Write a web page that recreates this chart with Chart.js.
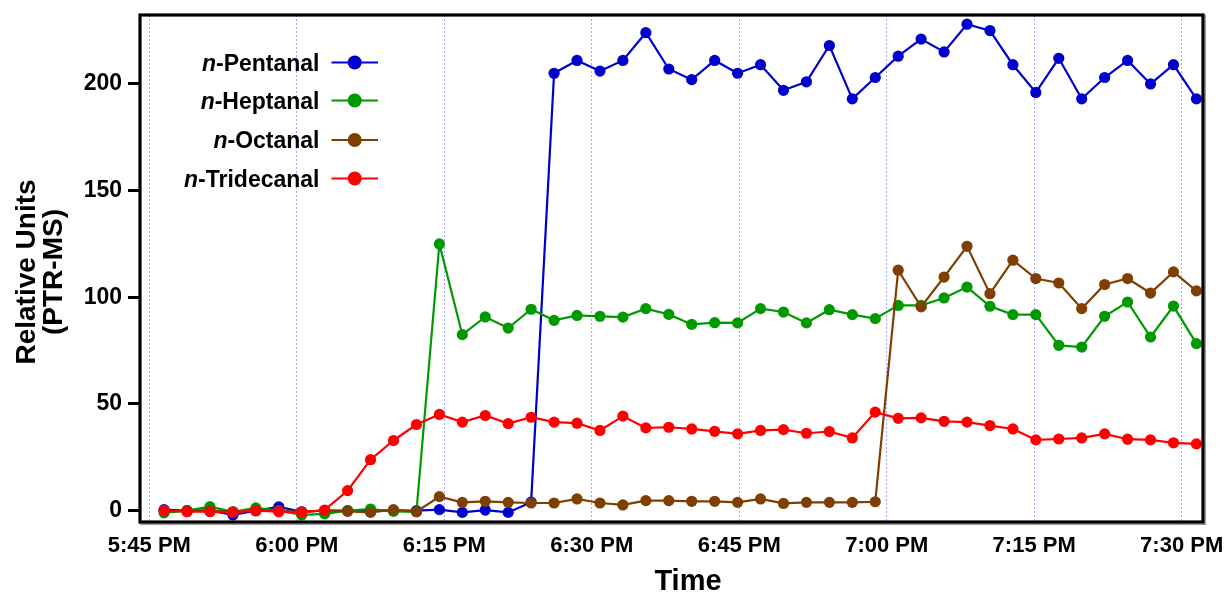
<!DOCTYPE html>
<html><head><meta charset="utf-8">
<script src="https://cdn.jsdelivr.net/npm/chart.js@4.4.1/dist/chart.umd.min.js"></script>
<style>html,body{margin:0;padding:0;background:#fff}canvas{display:block}</style>
</head><body>
<canvas id="c" width="1226" height="594"></canvas>
<script>
// ---- data ----
const sampleTimes = ['17:46:30','17:48:50','17:51:10','17:53:30','17:55:50','17:58:10','18:00:30','18:02:50','18:05:10','18:07:30',
 '18:09:50','18:12:10','18:14:30','18:16:50','18:19:10','18:21:30','18:23:50','18:26:10','18:28:30','18:30:50',
 '18:33:10','18:35:30','18:37:50','18:40:10','18:42:30','18:44:50','18:47:10','18:49:30','18:51:50','18:54:10',
 '18:56:30','18:58:50','19:01:10','19:03:30','19:05:50','19:08:10','19:10:30','19:12:50','19:15:10','19:17:30',
 '19:19:50','19:22:10','19:24:30','19:26:50','19:29:10','19:31:30'];
const seriesNames = ['Pentanal','Heptanal','Octanal','Tridecanal'];
const pentanal = [0.5,0,0,-2,0,1.8,-0.5,0,0,0,0,0,0.5,-0.8,0.3,-0.8,4,
 205,211,206,211,224,207,202,211,205,209,197,201,218,193,203,213,221,215,228,225,209,196,212,193,203,211,200,209,193];
const heptanal = [-1,0,1.9,-0.5,1.3,0,-2,-1.5,0,0.8,-0.3,-0.5,
 125,82.5,90.8,85.6,94.4,89.2,91.5,91.1,90.7,94.7,92,87.3,88.1,88,94.7,93.1,88,94.2,91.9,90,
 96.2,96.2,99.7,104.8,95.8,91.9,91.9,77.5,76.7,91.1,97.8,81.4,95.9,78.3];
const octanal = [0,0,0,-0.5,0,0,-0.5,0,-0.3,-0.8,0.5,-0.5,
 6.6,3.9,4.4,3.9,3.6,3.6,5.5,3.6,2.7,4.7,4.7,4.4,4.4,3.9,5.5,3.4,3.9,3.9,3.9,4.2,
 112.7,95.5,109.5,123.9,101.7,117.4,108.8,106.7,94.7,106,108.8,102,111.9,103];
const tridecanal = [0,-0.5,-0.5,-0.8,0,-0.5,-0.8,0.3,9.4,23.9,32.9,40.4,45.1,41.5,44.6,40.8,43.8,41.5,41,37.6,
 44.3,38.8,39.1,38.3,37.2,36,37.6,38,36.3,37.1,34.1,46.2,43.3,43.5,41.9,41.5,39.9,38.3,33.2,33.6,
 34.1,36,33.5,33.2,31.8,31.3];
const xTickTimes = ['17:45:00','18:00:00','18:15:00','18:30:00','18:45:00','19:00:00','19:15:00','19:30:00'];
const xTickLabels = ['5:45 PM','6:00 PM','6:15 PM','6:30 PM','6:45 PM','7:00 PM','7:15 PM','7:30 PM'];
const yTicks = [0,50,100,150,200];
const colors = ['#0000cc','#009900','#7f3f00','#ff0000'];

// ---- helpers ----
const FONT = "'Liberation Sans', Arial, Helvetica, sans-serif";
function toMin(s){const p=s.split(':').map(Number);return p[0]*60+p[1]+p[2]/60-(17*60+45);}
const seriesValues=[pentanal,heptanal,octanal,tridecanal];
const drawOrder=[3,2,1,0];
const datasets = seriesValues.map((vals,k)=>({
  label:'n-'+seriesNames[k],
  data: sampleTimes.map((t,i)=>({x:toMin(t),y:vals[i]})),
  borderColor:colors[k], backgroundColor:colors[k],
  pointBackgroundColor:colors[k], pointBorderColor:colors[k],
  borderWidth:2.2, pointRadius:5.6, pointBorderWidth:0, tension:0,
  order:drawOrder[k]
}));

const framePlugin = {
  id:'frame',
  afterDraw(chart){
    const {ctx, chartArea:a} = chart;
    ctx.save();
    // shadow
    ctx.strokeStyle='#9a9a9a'; ctx.lineWidth=1.5;
    ctx.beginPath(); ctx.moveTo(a.right+2.2,a.top); ctx.lineTo(a.right+2.2,a.bottom+2.2); ctx.lineTo(a.left,a.bottom+2.2); ctx.stroke();
    ctx.strokeStyle='#000'; ctx.lineWidth=3.2;
    ctx.strokeRect(a.left,a.top,a.right-a.left,a.bottom-a.top);
    // legend
    const rows=[70.5,108.5,148,186.5];
    const textRight=319.5, lx1=331.5, lx2=378, mx=354.7;
    seriesNames.forEach((nm,k)=>{
      const y=rows[k];
      ctx.font="bold 23px "+FONT; ctx.fillStyle='#000'; ctx.textBaseline='alphabetic'; ctx.textAlign='left';
      const rest='-'+nm; const w=ctx.measureText(rest).width;
      ctx.fillText(rest,textRight-w,y);
      ctx.font="italic bold 23px "+FONT; ctx.textAlign='right';
      ctx.fillText('n',textRight-w,y);
      const cy=y-8;
      ctx.strokeStyle=colors[k]; ctx.lineWidth=2.2;
      ctx.beginPath(); ctx.moveTo(lx1,cy); ctx.lineTo(lx2,cy); ctx.stroke();
      ctx.fillStyle=colors[k]; ctx.beginPath(); ctx.arc(mx,cy,7,0,Math.PI*2); ctx.fill();
    });
    // axis titles
    ctx.fillStyle='#000';
    ctx.font="bold 29px "+FONT; ctx.textAlign='center'; ctx.textBaseline='alphabetic';
    ctx.fillText('Time',688,590);
    ctx.save(); ctx.translate(0,272); ctx.rotate(-Math.PI/2);
    ctx.font="bold 28px "+FONT;
    ctx.fillText('Relative Units',0,35);
    ctx.fillText('(PTR-MS)',0,62);
    ctx.restore();
    ctx.restore();
  }
};

new Chart(document.getElementById('c'),{
  type:'line',
  data:{datasets},
  options:{
    animation:false, responsive:false, devicePixelRatio:1,
    layout:{padding:{top:15,right:23,left:0,bottom:0}},
    plugins:{legend:{display:false},tooltip:{enabled:false}},
    scales:{
      x:{type:'linear',min:-0.95,max:107.17,
        afterBuildTicks:s=>{s.ticks=xTickTimes.map(t=>({value:toMin(t)}));},
        afterFit:s=>{s.height=72;s.paddingLeft=0;s.paddingRight=0;},
        ticks:{autoSkip:false,maxRotation:0,minRotation:0,color:'#000',padding:11,
          font:{family:FONT,weight:'bold',size:22},
          callback:(v,i)=>xTickLabels[i]},
        grid:{drawTicks:false,color:'rgba(110,110,255,0.65)',lineWidth:1},
        border:{display:false,dash:[2,2]}
      },
      y:{type:'linear',min:-5.3,max:232.3,
        afterBuildTicks:s=>{s.ticks=yTicks.map(v=>({value:v}));},
        afterFit:s=>{s.width=140;s.paddingTop=0;s.paddingBottom=0;},
        ticks:{color:'#000',padding:6,font:{family:FONT,weight:'bold',size:23}},
        grid:{drawOnChartArea:false,drawTicks:true,tickLength:12,tickWidth:3,tickColor:'#000',color:'#000'},
        border:{display:false}
      }
    }
  },
  plugins:[framePlugin]
});
</script>
</body></html>
